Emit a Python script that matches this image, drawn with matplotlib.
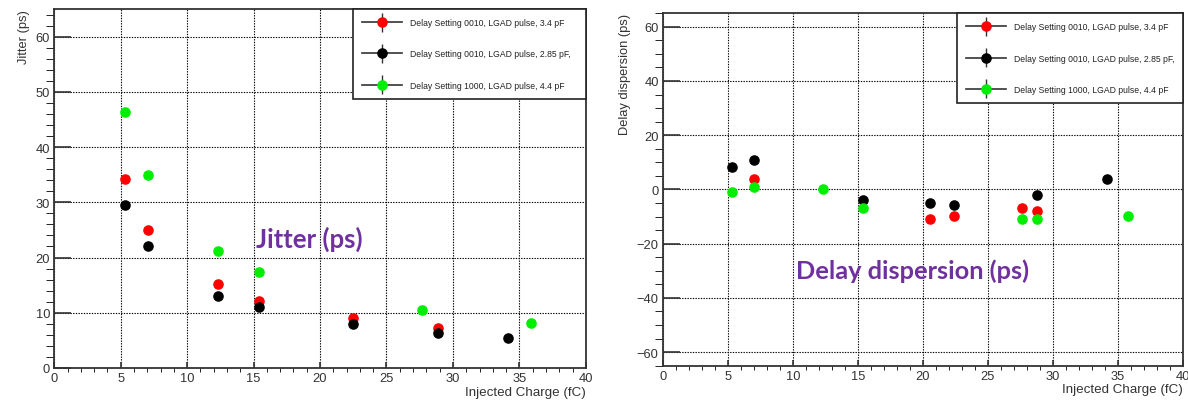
import matplotlib
matplotlib.use("Agg")
import matplotlib.pyplot as plt
from matplotlib.legend_handler import HandlerErrorbar
from matplotlib.ticker import MultipleLocator

plt.rcParams["font.family"] = ["Liberation Sans", "DejaVu Sans"]

# series labels / colours
labels = [
    "Delay Setting 0010, LGAD pulse, 3.4 pF",
    "Delay Setting 0010, LGAD pulse, 2.85 pF,",
    "Delay Setting 1000, LGAD pulse, 4.4 pF",
]
colors = ["#ff0000", "#000000", "#00ee00"]

# jitter (ps) vs injected charge (fC)
jit_red_x = [5.32, 7.02, 12.34, 15.43, 22.46, 28.84]
jit_red_y = [34.2, 25.0, 15.2, 12.2, 9.0, 7.2]
jit_blk_x = [5.32, 7.02, 12.34, 15.43, 22.46, 28.84, 34.16]
jit_blk_y = [29.5, 22.1, 13.1, 11.0, 7.9, 6.4, 5.35]
jit_grn_x = [5.32, 7.02, 12.34, 15.43, 27.66, 35.87]
jit_grn_y = [46.3, 35.0, 21.2, 17.3, 10.5, 8.06]

# delay dispersion (ps) vs injected charge (fC)
dly_red_x = [7.01, 20.58, 22.42, 27.59, 28.8]
dly_red_y = [4.0, -10.9, -9.9, -6.9, -7.8]
dly_blk_x = [5.28, 7.01, 15.41, 20.58, 22.42, 28.8, 34.14]
dly_blk_y = [8.1, 11.0, -3.9, -4.9, -5.9, -2.0, 4.0]
dly_grn_x = [5.28, 7.01, 12.29, 15.41, 27.59, 28.8, 35.8]
dly_grn_y = [-0.86, 1.0, 0.0, -7.0, -10.9, -10.9, -9.9]

fig = plt.figure(figsize=(11.88, 4.02), dpi=100)
ax1 = fig.add_axes([0.0457, 0.0821, 0.4474, 0.893])
ax2 = fig.add_axes([0.558, 0.0878, 0.4377, 0.877])

AXC = "#333333"
TICK_FS = 9.3


def style_axis(ax, ylim, ymajor, yminor, ylabel):
    ax.set_xlim(0, 40)
    ax.set_ylim(*ylim)
    ax.xaxis.set_major_locator(MultipleLocator(5))
    ax.xaxis.set_minor_locator(MultipleLocator(1))
    ax.yaxis.set_major_locator(MultipleLocator(ymajor))
    ax.yaxis.set_minor_locator(MultipleLocator(yminor))
    ax.tick_params(direction="in", colors=AXC, labelsize=TICK_FS, width=1.2)
    ax.tick_params(axis="y", which="major", length=12.5, pad=3)
    ax.tick_params(axis="y", which="minor", length=6)
    ax.tick_params(axis="x", which="major", length=4.5, pad=3)
    ax.tick_params(axis="x", which="minor", length=3)
    for s in ax.spines.values():
        s.set_color(AXC)
        s.set_linewidth(1.3)
    ax.grid(True, which="major", color="black", linestyle=(0, (1.2, 1.2)), linewidth=0.8)
    ax.set_axisbelow(True)
    ax.set_xlabel("Injected Charge (fC)", loc="right", fontsize=9.6, color=AXC, labelpad=1)
    ax.set_ylabel(ylabel, loc="top", fontsize=9.3, color=AXC, labelpad=4)


def draw(ax, series, x0, w, y0, h):
    handles = []
    for (x, y), c, lab in zip(series, colors, labels):
        ax.plot(x, y, "o", color=c, ms=6.6, zorder=3)
        hnd = ax.errorbar([], [], yerr=[], fmt="o-", color="#333333", mfc=c, mec=c, ms=6.6,
                          ecolor="#333333", elinewidth=1.0, capsize=2.5, lw=1.2, label=lab)
        handles.append(hnd)
    leg = ax.legend(handles=handles, loc="upper left", bbox_to_anchor=(x0, y0, w, h),
                    mode="expand", fontsize=6.2, frameon=True, fancybox=False,
                    edgecolor="#222222", framealpha=1, borderaxespad=0,
                    handlelength=4.65, handleheight=0.7, handletextpad=0.93,
                    labelspacing=2.6, borderpad=1.05,
                    handler_map={type(handles[0]): HandlerErrorbar(xerr_size=1.1)})
    leg.get_frame().set_linewidth(1.2)
    for t in leg.get_texts():
        t.set_color("#222222")
    return leg


style_axis(ax1, (0, 65), 10, 2, "Jitter (ps)")
style_axis(ax2, (-65, 65), 20, 5, "Delay dispersion (ps)")

draw(ax1, [(jit_red_x, jit_red_y), (jit_blk_x, jit_blk_y), (jit_grn_x, jit_grn_y)],
     0.5626, 0.4374, 0.75, 0.25)
draw(ax2, [(dly_red_x, dly_red_y), (dly_blk_x, dly_blk_y), (dly_grn_x, dly_grn_y)],
     0.566, 0.434, 0.75, 0.25)

ax1.text(19.2, 23.5, "Jitter (ps)", color="#7030a0", fontsize=18.5, fontweight="bold",
         family=["Lato", "DejaVu Sans"], ha="center", va="center")
ax2.text(19.2, -29.8, "Delay dispersion (ps)", color="#7030a0", fontsize=18.3, fontweight="bold",
         family=["Lato", "DejaVu Sans"], ha="center", va="center")

fig.savefig("out.png", dpi=100)
